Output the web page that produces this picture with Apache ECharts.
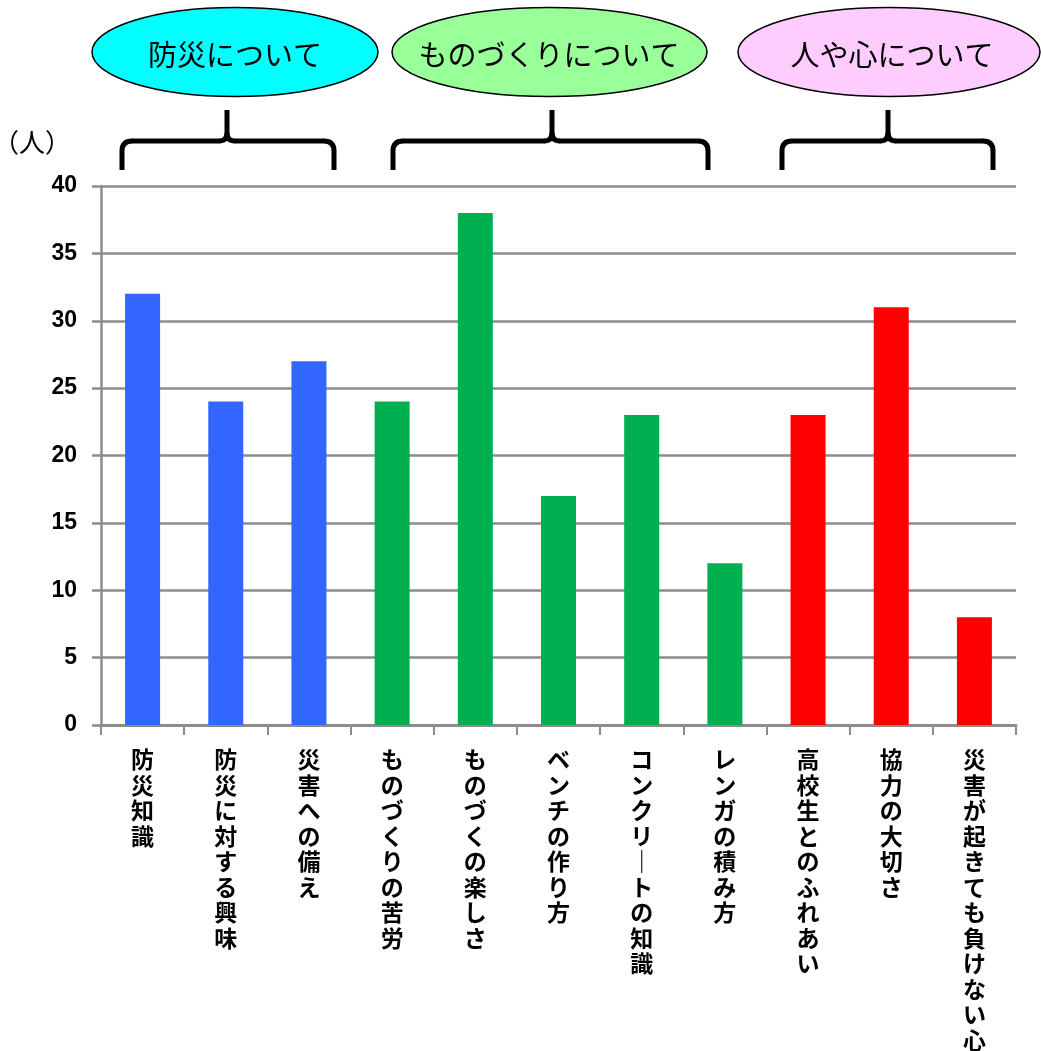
<!DOCTYPE html>
<html lang="ja">
<head>
<meta charset="utf-8">
<title>アンケート結果</title>
<script src="https://cdn.jsdelivr.net/npm/echarts@6/dist/echarts.min.js"></script>
<style>
  html, body { margin: 0; padding: 0; background: #fff; }
  #chart { width: 1043px; height: 1051px; }
</style>
</head>
<body>
<div id="chart"></div>
<script>
// Items answered by participants (number of people)
const categories = [
  '防災知識', '防災に対する興味', '災害への備え',
  'ものづくりの苦労', 'ものづくの楽しさ', 'ベンチの作り方', 'コンクリートの知識', 'レンガの積み方',
  '高校生とのふれあい', '協力の大切さ', '災害が起きても負けない心'
];
const values = [32, 24, 27, 24, 38, 17, 23, 12, 23, 31, 8];
// Which theme each item belongs to (index into groupTitles)
const groupOf = [0, 0, 0, 1, 1, 1, 1, 1, 2, 2, 2];
const groupTitles = ['防災について', 'ものづくりについて', '人や心について'];
const yTicks = [0, 5, 10, 15, 20, 25, 30, 35, 40];

// Styling
const barColors = ['#3366FF', '#00B050', '#FF0000'];
const bubbleColors = ['#00FFFF', '#99FF99', '#FFCCFF'];
const gridGray = '#8c8c8c';

// Theme bubbles and braces above the plot
const bubbles = [
  { cx: 235, cy: 52, rx: 143, ry: 44.5, tx: 235 },
  { cx: 549.5, cy: 52, rx: 157.5, ry: 44.5, tx: 549 },
  { cx: 889, cy: 52, rx: 151, ry: 44.5, tx: 892 }
];
const braces = [
  { x0: 122, xc: 227, x1: 334 },
  { x0: 393, xc: 552, x1: 708 },
  { x0: 782, xc: 888, x1: 993 }
];

// A horizontal curly brace opening downward, built from lines and curves
function braceParts(b) {
  const yEnd = 170, yBar = 141, yTip = 110, r = 10, t = 8;
  const st = { stroke: '#000', lineWidth: 5, fill: 'none', lineCap: 'butt' };
  const seg = (x1, y1, x2, y2) => ({ type: 'line', shape: { x1, y1, x2, y2 }, style: st, z: 10 });
  const crv = (x1, y1, cx, cy, x2, y2) => ({
    type: 'bezierCurve',
    shape: { x1, y1, cpx1: cx, cpy1: cy, x2, y2 },
    style: st, z: 10
  });
  return [
    seg(b.x0, yEnd, b.x0, yBar + r),
    crv(b.x0, yBar + r, b.x0, yBar, b.x0 + r, yBar),
    seg(b.x0 + r - 0.5, yBar, b.xc - t + 0.5, yBar),
    crv(b.xc - t, yBar, b.xc, yBar, b.xc, yBar - t),
    seg(b.xc, yBar - t + 0.5, b.xc, yTip),
    crv(b.xc, yBar - t, b.xc, yBar, b.xc + t, yBar),
    seg(b.xc + t - 0.5, yBar, b.x1 - r + 0.5, yBar),
    crv(b.x1 - r, yBar, b.x1, yBar, b.x1, yBar + r),
    seg(b.x1, yBar + r - 0.5, b.x1, yEnd)
  ];
}

const graphics = [];
bubbles.forEach((b, i) => {
  graphics.push({
    type: 'ellipse',
    shape: { cx: b.cx, cy: b.cy, rx: b.rx, ry: b.ry },
    style: { fill: bubbleColors[i], stroke: '#000', lineWidth: 1.5 },
    z: 10
  });
  graphics.push({
    type: 'text',
    x: b.tx, y: b.cy + 3,
    style: {
      text: groupTitles[i],
      fill: '#000',
      fontSize: 29,
      fontFamily: '"Noto Sans CJK JP", sans-serif',
      align: 'center',
      verticalAlign: 'middle'
    },
    z: 11
  });
});
braces.forEach(b => { braceParts(b).forEach(p => graphics.push(p)); });

const chart = echarts.init(document.getElementById('chart'), null, { renderer: 'canvas' });

chart.setOption({
  backgroundColor: '#fff',
  animation: false,
  grid: {
    left: 101, right: 27, top: 186, bottom: 326,
    containLabel: false,
    outerBoundsMode: 'none'
  },
  xAxis: {
    type: 'category',
    data: categories,
    axisLine: { show: true, lineStyle: { color: gridGray, width: 3 } },
    axisTick: { show: true, length: 10, lineStyle: { color: gridGray, width: 2 } },
    axisLabel: {
      interval: 0,
      margin: 22,
      color: '#000',
      fontSize: 23,
      fontWeight: 'bold',
      lineHeight: 25.5,
      fontFamily: '"Noto Sans CJK JP", sans-serif',
      verticalAlign: 'top',
      // stack the characters top to bottom; long vowel mark drawn upright
      formatter: v => v.split('').map(c => (c === 'ー' ? '｜' : c)).join('\n')
    },
    splitLine: { show: false }
  },
  yAxis: {
    type: 'value',
    min: yTicks[0],
    max: yTicks[yTicks.length - 1],
    interval: yTicks[1] - yTicks[0],
    name: '（人）',
    nameLocation: 'end',
    nameGap: 44,
    nameTextStyle: {
      color: '#000',
      fontSize: 26,
      fontFamily: '"Noto Sans CJK JP", sans-serif',
      align: 'right',
      verticalAlign: 'middle',
      padding: [0, 30, 0, 0]
    },
    axisLine: { show: true, lineStyle: { color: gridGray, width: 2.5 } },
    axisTick: { show: true, length: 9, lineStyle: { color: gridGray, width: 2.5 } },
    axisLabel: {
      margin: 24,
      color: '#000',
      fontSize: 23,
      fontWeight: 'bold',
      fontFamily: 'Liberation Sans, Arial, sans-serif'
    },
    splitLine: { show: true, lineStyle: { color: gridGray, width: 2.5 } }
  },
  series: [{
    type: 'bar',
    barWidth: 35,
    data: values.map((v, i) => ({ value: v, itemStyle: { color: barColors[groupOf[i]] } })),
    z: 3
  }],
  graphic: graphics
});
</script>
</body>
</html>
